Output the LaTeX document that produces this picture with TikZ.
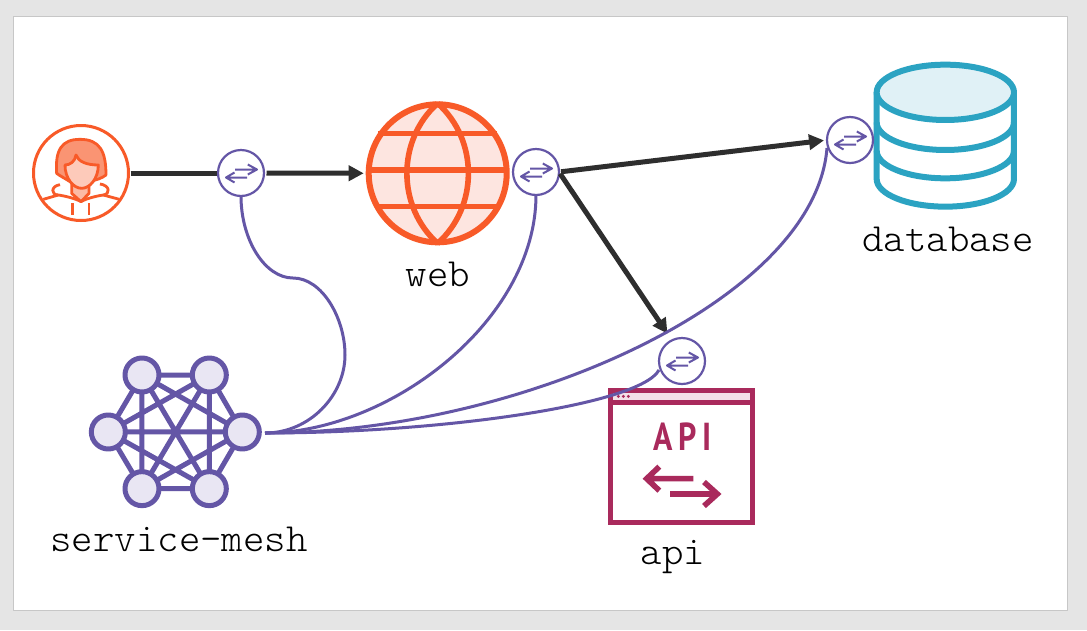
\documentclass[tikz,border=0pt]{standalone}
\usepackage{fontspec}
\newfontfamily\apifont[LetterSpace=14,FakeStretch=0.82]{PT Sans Bold}
\newfontfamily\labelfont[FakeStretch=1.02]{Latin Modern Mono Light}
\usetikzlibrary{arrows.meta}
\definecolor{mred}{HTML}{F85A28}
\definecolor{mredl}{HTML}{FDE5E0}
\definecolor{mpurple}{HTML}{6456A6}
\definecolor{mpurplel}{HTML}{E9E6F3}
\definecolor{mblue}{HTML}{2BA3C2}
\definecolor{mbluel}{HTML}{E0F1F6}
\definecolor{mpink}{HTML}{A92A5C}
\definecolor{mpinkl}{HTML}{F3E0E8}
\definecolor{mdark}{HTML}{2E2E2E}
\tikzset{
  proxy/.style={circle,draw=mpurple,fill=white,line width=2.2pt,minimum size=46pt,inner sep=0pt,outer sep=0pt},
  flow/.style={draw=mdark,line width=5pt},
  arrowflow/.style={flow,-{Triangle[length=15pt,width=15pt]}},
  meshlink/.style={draw=mpurple,line width=3pt},
  meshnode/.style={circle,draw=mpurple,fill=mpurplel,line width=5pt,minimum size=34pt,inner sep=0pt,outer sep=0pt},
  label/.style={font=\labelfont\fontsize{40}{40}\selectfont,text=black,inner sep=0pt},
  pics/swap/.style={code={
    \draw[mpurple,line width=2pt] (-6,-3.5) -- (16,-3.5) (6.8,-8.5) -- (16,-3.5) -- (6.8,1.5);
    \draw[mpurple,line width=2pt] (6,4.5) -- (-15,4.5) (-6.5,-0.5) -- (-15,4.5) -- (-6.5,9.5);
  }}
}
\begin{document}
\begin{tikzpicture}[x=1pt,y=-1pt,line join=round]
\useasboundingbox (0,0) rectangle (1087,630);
\fill[black!10] (0,0) rectangle (1087,630);
\draw[black!22,fill=white,line width=1pt] (13.5,16.5) rectangle (1067,610);

% user
\node[circle,draw=mred,fill=white,line width=3pt,minimum size=95pt,inner sep=0pt,outer sep=0pt] (user) at (81,173) {};
\begin{scope}[shift={(20,110)},x=0.3333pt,y=-0.3333pt,draw=mred,line width=2.8pt]
  \draw[fill=mred!65!white] (110,190) .. controls (105,120) and (125,88) .. (180,88) .. controls (240,88) and (258,125) .. (258,195) .. controls (245,205) and (230,210) .. (205,215) -- (150,215) .. controls (135,205) and (120,198) .. (110,190) -- cycle;
  \draw[fill=mred!42!white] (155,215) -- (155,250) -- (183,275) -- (207,250) -- (207,215) -- cycle;
  \draw[fill=mred!32!white] (135,165) .. controls (150,165) and (165,155) .. (168,135) .. controls (175,155) and (200,165) .. (235,165) .. controls (235,205) and (210,235) .. (185,235) .. controls (160,235) and (135,205) .. (135,165) -- cycle;
  \draw (120,224) .. controls (92,228) and (92,255) .. (115,255) .. controls (135,258) and (165,265) .. (183,275) .. controls (200,265) and (230,258) .. (250,255) .. controls (272,252) and (270,226) .. (240,222);
  \draw (70,268) -- (115,255) (250,255) -- (298,268);
  \draw (157,280) -- (157,315) (207,280) -- (207,315);
\end{scope}

% web
\node[circle,draw=mred,fill=mredl,line width=6pt,minimum size=138pt,inner sep=0pt,outer sep=0pt] (web) at (437.7,173.3) {};
\begin{scope}[shift={(200,90)},x=0.3333pt,y=-0.3333pt,draw=mred,line width=5.6pt]
  \draw (534,130) -- (892,130) (503,240) -- (923,240) (534,350) -- (892,350);
  \draw (713,40) .. controls (590,150) and (590,350) .. (713,460);
  \draw (713,40) .. controls (836,150) and (836,350) .. (713,460);
\end{scope}

% database
\begin{scope}[shift={(810,50)},x=0.3333pt,y=-0.3333pt,draw=mblue,line width=6pt]
  \draw (200,127) -- (200,387) arc[start angle=180,end angle=0,x radius=206,y radius=83] -- (612,127);
  \draw (200,217) arc[start angle=180,end angle=0,x radius=206,y radius=83];
  \draw (200,302) arc[start angle=180,end angle=0,x radius=206,y radius=83];
  \draw[fill=mbluel] (406,127) ellipse[x radius=206,y radius=83];
\end{scope}

% api
\begin{scope}[shift={(600,320)},x=0.3333pt,y=-0.3333pt]
  \draw[mpink,fill=white,line width=5pt,line join=miter] (32,210) rectangle (459,608);
  \draw[mpink,fill=mpinkl,line width=5pt,line join=miter] (32,210) rectangle (459,247);
  \fill[mpink] (55,229) circle[radius=5] (70,229) circle[radius=5] (85,229) circle[radius=5];
  \node[text=mpink,inner sep=0pt,font=\apifont\fontsize{39}{39}\selectfont] (apitext) at (248,351) {API};
  \draw[mpink,line width=5.6pt,line join=miter] (280,476) -- (142,476) (178,440) -- (140,476) -- (178,512);
  \draw[mpink,line width=5.6pt,line join=miter] (210,522) -- (350,522) (312,486) -- (352,522) -- (312,558);
\end{scope}

% service mesh
\begin{scope}[shift={(80,345)},x=0.3333pt,y=-0.3333pt]
  \foreach \n/\p in {1/{186,90},2/{388,90},3/{85,261},4/{487,261},5/{186,431},6/{388,431}}
    \coordinate (c\n) at (\p);
  \draw[draw=mpurple,line width=5pt]
    (c1)--(c2) (c1)--(c3) (c1)--(c4) (c1)--(c5) (c1)--(c6)
    (c2)--(c3) (c2)--(c4) (c2)--(c5) (c2)--(c6)
    (c3)--(c4) (c3)--(c5) (c3)--(c6)
    (c4)--(c5) (c4)--(c6) (c5)--(c6);
  \foreach \n in {1,...,6} \node[meshnode] (m\n) at (c\n) {};
\end{scope}
\coordinate (meshport) at (265,433);

% proxies
\node[proxy] (p1) at (241,173) {};
\node[proxy] (p2) at (536,172) {};
\node[proxy] (p3) at (850,140) {};
\node[proxy] (p4) at (682,361) {};
\foreach \p in {p1,p2,p3,p4} \pic at (\p) {swap};

% flows
\draw[flow,shorten <=2pt,shorten >=1.5pt] (user.east) -- (p1.west);
\draw[arrowflow,shorten <=2.5pt,shorten >=5pt] (p1.east) -- (web.west);
\draw[arrowflow,shorten <=2pt,shorten >=3pt] (p2.east) -- (p3.west);
\draw[arrowflow,shorten <=2pt,shorten >=8pt] (p2.east) -- (p4.116);

% mesh links
\draw[meshlink] (p1.south) .. controls (241,240) and (265,278) .. (293,278) .. controls (322,278) and (345,318) .. (345,355) .. controls (345,395) and (310,433) .. (meshport);
\draw[meshlink] (p2.south) .. controls (536,320) and (390,433) .. (meshport);
\draw[meshlink] (p3.west) ++(0,8) .. controls (815,300) and (520,433) .. (meshport);
\draw[meshlink] (p4.west) ++(0,9) .. controls (640,405) and (440,433) .. (meshport);

% labels
\node[label] (lweb) at (438,274) {web};
\node[label] (ldb) at (948,239) {database};
\node[label] (lmesh) at (179,539) {service-mesh};
\node[label] (lapi) at (673,557) {api};
\end{tikzpicture}
\end{document}
